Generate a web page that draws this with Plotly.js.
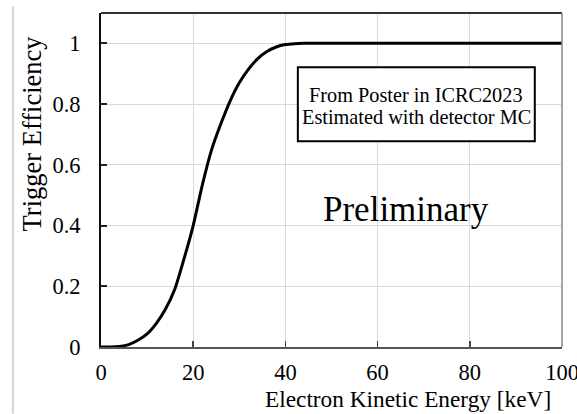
<!DOCTYPE html>
<html><head><meta charset="utf-8">
<script src="https://cdn.plot.ly/plotly-3.0.1.min.js"></script>
<style>html,body{margin:0;padding:0;background:#fff;}#c{width:577px;height:414px;}</style>
</head><body><div id="c"></div>
<script>
const energy = [0, 2, 4, 6, 8, 10, 12, 14, 16, 18, 20, 22, 24, 26, 28, 30, 32, 34, 36, 38, 40, 42, 44, 50, 60, 70, 80, 90, 100];
const efficiency = [0, 0, 0.002, 0.008, 0.022, 0.043, 0.078, 0.125, 0.19, 0.29, 0.40, 0.535, 0.65, 0.735, 0.81, 0.87, 0.915, 0.95, 0.973, 0.988, 0.996, 0.999, 1.0, 1.0, 1.0, 1.0, 1.0, 1.0, 1.0];
const xTicks = [0, 20, 40, 60, 80, 100];
const yTicks = [0, 0.2, 0.4, 0.6, 0.8, 1];
const yTickText = ['0', '0.2', '0.4', '0.6', '0.8', '1'];
const noteLines = ['From Poster in ICRC2023', 'Estimated with detector MC'];

const font = '"Times New Roman", "Liberation Serif", "DejaVu Serif", serif';
const trace = {x: energy, y: efficiency, mode: 'lines', line: {color: '#000', width: 3, shape: 'spline', smoothing: 0.6}, hoverinfo: 'skip'};
const layout = {
  width: 577, height: 414,
  margin: {l: 101, r: 15, t: 13, b: 67},
  paper_bgcolor: '#fff', plot_bgcolor: '#fff',
  showlegend: false,
  font: {family: font, color: '#000', size: 22},
  xaxis: {range: [0, 100], tickvals: xTicks, ticks: 'inside', ticklen: 6, tickcolor: '#444', tickwidth: 1.5,
    showgrid: true, gridcolor: '#d9d9d9', gridwidth: 1, zeroline: false, ticklabeloverflow: 'allow',
    showline: true, linecolor: '#555', linewidth: 1.5, tickfont: {family: font, size: 22.5, color: '#000'}, ticklabelstandoff: 4},
  yaxis: {range: [0, 1.1], tickvals: yTicks, ticktext: yTickText, ticks: 'inside', ticklen: 6, tickcolor: '#222', tickwidth: 2,
    showgrid: true, gridcolor: '#d9d9d9', gridwidth: 1, zeroline: false,
    showline: true, linecolor: '#111', linewidth: 2, tickfont: {family: font, size: 22.5, color: '#000'}, ticklabelstandoff: 14},
  shapes: [
    {type: 'line', xref: 'paper', yref: 'paper', x0: 0, x1: 1, y0: 1, y1: 1, line: {color: '#333', width: 2}},
    {type: 'line', xref: 'paper', yref: 'paper', x0: 1, x1: 1, y0: 0, y1: 1, line: {color: '#888', width: 1.5}},
    {type: 'line', xref: 'paper', yref: 'paper', x0: -0.191, x1: -0.191, y0: -0.2, y1: 1.02, line: {color: '#c8c8c8', width: 1.5}},
    {type: 'rect', xref: 'x', yref: 'y', x0: 42.7, x1: 94.1, y0: 0.678, y1: 0.921, line: {color: '#000', width: 2}, fillcolor: '#fff', layer: 'above'}
  ],
  annotations: [
    {xref: 'x', yref: 'paper', x: 66.7, y: -0.110, xanchor: 'center', yanchor: 'top', showarrow: false,
      text: 'Electron Kinetic Energy [keV]', font: {family: font, size: 23.3, color: '#000'}},
    {xref: 'paper', yref: 'paper', x: -0.150, y: 0.639, xanchor: 'center', yanchor: 'middle', showarrow: false, textangle: -90,
      text: 'Trigger Efficiency', font: {family: font, size: 26.5, color: '#000'}},
    {xref: 'x', yref: 'y', x: 68.4, y: 0.829, xanchor: 'center', yanchor: 'middle', showarrow: false,
      text: noteLines[0], font: {family: font, size: 20.3, color: '#000'}},
    {xref: 'x', yref: 'y', x: 68.4, y: 0.757, xanchor: 'center', yanchor: 'middle', showarrow: false,
      text: noteLines[1], font: {family: font, size: 20.3, color: '#000'}},
    {xref: 'x', yref: 'y', x: 66.2, y: 0.452, xanchor: 'center', yanchor: 'middle', showarrow: false,
      text: 'Preliminary', font: {family: font, size: 35, color: '#000'}}
  ]
};
Plotly.newPlot('c', [trace], layout, {staticPlot: true, displayModeBar: false});
</script></body></html>
